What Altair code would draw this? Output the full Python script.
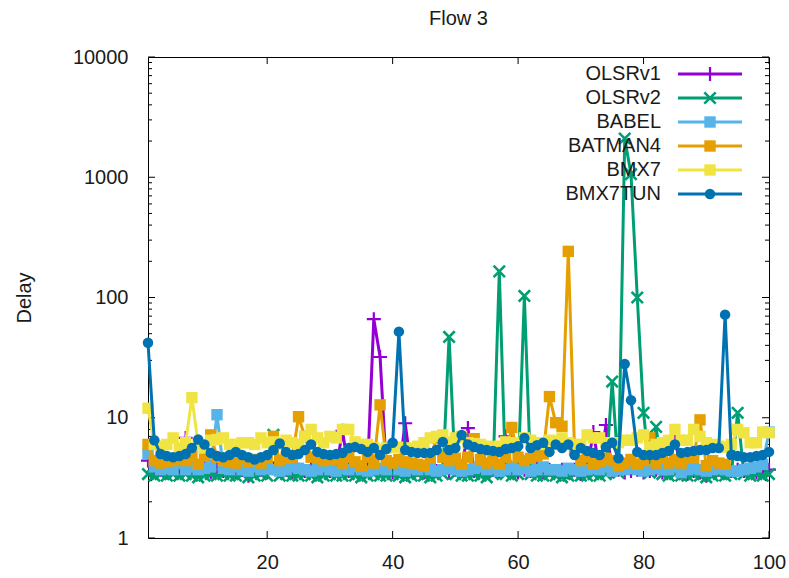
import altair as alt
import pandas as pd

# ---- data -------------------------------------------------------------
names = ["OLSRv1", "OLSRv2", "BABEL", "BATMAN4", "BMX7", "BMX7TUN"]
colors = ["#9400d3", "#009e73", "#56b4e9", "#e69f00", "#f0e442", "#0072b2"]

olsrv1 = [4.4, 3.6, 3.7, 3.5, 3.8, 3.6, 6.8, 3.7, 3.6, 3.8,
          3.5, 3.9, 3.6, 3.7, 3.5, 3.7, 3.3, 3.6, 3.7, 3.5,
          3.8, 3.6, 3.7, 3.5, 3.7, 3.6, 3.8, 3.5, 3.7, 3.6,
          3.7, 7.8, 3.6, 3.7, 3.5, 3.7, 66, 32, 3.7, 3.5,
          3.6, 9.0, 3.6, 3.7, 3.5, 3.7, 3.6, 3.8, 3.5, 3.7,
          3.6, 8.2, 3.6, 3.7, 3.5, 3.7, 3.6, 7.0, 3.6, 3.5,
          3.7, 3.6, 3.8, 3.5, 3.7, 3.6, 3.7, 3.5, 3.7, 3.4,
          3.7, 7.6, 3.6, 8.7, 3.6, 3.7, 3.5, 3.6, 3.7, 3.5,
          3.6, 3.7, 3.5, 3.6, 6.8, 3.5, 3.4, 3.6, 3.5, 3.3,
          3.6, 3.7, 3.5, 3.6, 3.7, 3.6, 3.7, 3.5, 3.6, 3.7]

olsrv2 = [3.4, 3.3, 3.4, 3.3, 3.4, 3.3, 3.4, 3.3, 3.2, 3.3,
          3.4, 3.3, 3.4, 3.3, 3.3, 3.4, 3.2, 3.3, 3.4, 3.3,
          7.2, 3.3, 3.4, 3.3, 3.3, 3.4, 3.3, 3.2, 3.3, 3.4,
          3.3, 3.3, 3.4, 3.3, 3.2, 3.3, 3.4, 3.3, 3.3, 3.4,
          3.3, 3.2, 3.3, 3.4, 3.3, 3.2, 3.3, 3.4, 47, 3.4,
          3.3, 3.3, 3.4, 3.3, 3.2, 3.4, 165, 3.4, 3.3, 3.4,
          103, 3.4, 3.3, 3.3, 3.4, 3.3, 3.2, 3.3, 3.4, 3.3,
          3.3, 3.4, 3.3, 3.4, 20, 3.5, 2100, 1060, 100, 11,
          3.5, 8.4, 3.4, 3.3, 3.4, 3.3, 3.3, 3.4, 3.3, 3.2,
          3.3, 3.4, 3.3, 3.4, 11, 3.4, 3.3, 3.4, 3.3, 3.4]

babel = [5.0, 3.9, 3.7, 3.8, 3.7, 4.2, 3.7, 3.9, 3.7, 3.8,
         3.9, 10.6, 3.8, 3.7, 3.9, 3.7, 3.6, 3.9, 3.7, 3.8,
         3.7, 3.6, 3.7, 3.9, 3.8, 3.7, 3.6, 3.7, 3.9, 3.7,
         3.6, 3.8, 3.7, 3.9, 3.7, 3.6, 3.7, 3.8, 3.7, 4.2,
         3.7, 3.6, 3.8, 3.7, 3.9, 3.7, 3.6, 3.7, 3.8, 3.7,
         3.6, 3.7, 3.8, 3.9, 3.7, 3.8, 3.6, 3.7, 3.9, 3.7,
         3.8, 3.6, 3.7, 3.9, 3.7, 3.7, 3.6, 3.8, 3.7, 3.6,
         3.7, 3.8, 3.7, 3.9, 3.6, 3.7, 3.7, 3.8, 3.7, 3.6,
         3.7, 3.8, 3.7, 3.7, 3.9, 3.5, 3.7, 3.8, 3.7, 3.6,
         3.7, 3.8, 3.7, 3.6, 3.6, 3.7, 3.8, 3.9, 4.1, 7.6]

batman4 = [6.0, 4.4, 4.2, 4.3, 4.4, 4.6, 4.4, 4.8, 4.1, 4.8,
           7.2, 4.7, 4.4, 4.3, 4.2, 4.6, 4.3, 4.5, 4.2, 4.6,
           7.0, 4.4, 4.6, 4.7, 10.2, 7.0, 4.7, 4.6, 4.4, 4.6,
           4.5, 4.2, 4.7, 4.3, 4.0, 4.7, 4.2, 12.8, 4.4, 4.2,
           4.5, 4.3, 4.2, 4.1, 4.0, 4.6, 6.8, 4.7, 4.4, 4.6,
           4.1, 4.7, 6.7, 4.5, 4.2, 4.5, 4.1, 4.7, 8.3, 4.7,
           4.4, 4.6, 4.8, 5.0, 15, 9.1, 8.5, 242, 5.4, 4.4,
           4.7, 4.1, 4.3, 4.6, 4.4, 4.0, 4.2, 4.5, 4.1, 4.4,
           6.8, 4.2, 4.6, 4.2, 4.5, 4.2, 4.6, 4.7, 9.6, 4.0,
           4.4, 4.2, 4.1]

bmx7 = [12, 6.0, 5.8, 6.0, 6.8, 5.6, 6.2, 14.7, 6.0, 5.6,
        6.5, 6.6, 6.8, 6.0, 6.0, 6.2, 6.2, 6.0, 6.8, 6.2,
        6.3, 6.0, 6.5, 6.2, 6.0, 7.0, 8.0, 6.8, 6.2, 7.0,
        6.8, 8.0, 8.0, 6.3, 6.0, 6.0, 5.6, 5.4, 5.6, 5.7,
        5.7, 5.6, 5.6, 5.8, 6.2, 6.8, 7.0, 7.2, 6.3, 6.8,
        7.0, 6.2, 6.1, 6.0, 5.8, 5.7, 5.8, 6.3, 6.2, 6.2,
        6.8, 6.5, 6.2, 6.0, 6.5, 6.4, 6.8, 6.2, 6.0, 6.0,
        7.2, 6.8, 6.8, 6.2, 6.2, 6.2, 6.5, 6.5, 6.8, 7.2,
        5.7, 6.0, 6.2, 6.5, 8.0, 6.5, 6.5, 8.0, 7.0, 6.2,
        6.0, 5.8, 5.7, 6.0, 8.0, 7.5, 6.2, 6.2, 7.6, 7.5]

bmx7tun = [42, 6.5, 5.0, 4.8, 4.7, 4.8, 5.0, 5.6, 6.6, 6.0,
           5.1, 4.8, 4.7, 4.9, 5.2, 4.9, 4.7, 4.5, 4.7, 4.9,
           5.4, 6.1, 5.2, 4.9, 5.0, 5.4, 6.0, 5.2, 5.0, 4.9,
           5.0, 5.1, 5.6, 5.7, 5.5, 5.2, 5.6, 4.9, 5.5, 6.2,
           52, 5.4, 5.2, 5.1, 5.1, 5.1, 5.4, 6.3, 5.4, 5.6,
           7.2, 6.0, 5.7, 5.5, 5.4, 5.3, 5.2, 5.5, 5.6, 5.8,
           6.8, 5.6, 5.9, 6.2, 5.2, 6.0, 5.6, 6.0, 4.9, 5.6,
           5.3, 5.1, 4.9, 5.7, 6.2, 4.6, 28, 14, 5.2, 4.9,
           4.9, 4.9, 5.1, 5.3, 6.0, 5.1, 5.2, 5.3, 5.4, 5.4,
           5.6, 5.6, 72, 4.9, 4.8, 4.7, 4.7, 4.8, 4.9, 5.2]

series_values = [olsrv1, olsrv2, babel, batman4, bmx7, bmx7tun]

x_ticks = [20, 40, 60, 80, 100]
y_ticks = [1, 10, 100, 1000, 10000]
y_minor = [m * 10 ** k for k in range(4) for m in range(2, 10)]

# ---- styling ----------------------------------------------------------
W, H = 621, 481
FONT = "Liberation Sans"
INK = "#1a1a1a"
FS = 20

markers = {
    "OLSRv1": dict(shape="M-1,0H1M0,-1V1", filled=False, size=196, strokeWidth=2.2),
    "OLSRv2": dict(shape="M-1,-1L1,1M1,-1L-1,1", filled=False, size=130, strokeWidth=2.6),
    "BABEL": dict(shape="square", filled=True, size=130),
    "BATMAN4": dict(shape="square", filled=True, size=130),
    "BMX7": dict(shape="square", filled=True, size=130),
    "BMX7TUN": dict(shape="circle", filled=True, size=110),
}

xs = alt.Scale(domain=[1, 100], nice=False, zero=False)
ys = alt.Scale(type="log", domain=[1, 10000], nice=False)

x_axis = alt.Axis(values=x_ticks, ticks=False, tickSize=0, domain=False, grid=False,
                  labelFlush=False, labelPadding=14, labelFontSize=FS, labelFont=FONT,
                  labelColor=INK)
y_axis = alt.Axis(values=y_ticks, format="d", ticks=False, tickSize=0, domain=False,
                  grid=False, labelFlush=False, labelPadding=20, labelFontSize=FS,
                  labelFont=FONT, labelColor=INK, title="Delay", titleFontSize=FS,
                  titleFont=FONT, titleFontWeight="normal", titleColor=INK, titleX=-118,
                  titleY=H / 2, titleAngle=270, titleBaseline="alphabetic",
                  titleAlign="center")


def xenc(field):
    return alt.X(field, type="quantitative", scale=xs, axis=x_axis, title=None)


def yenc(field, axis=None):
    if axis is None:
        return alt.Y(field, type="quantitative", scale=ys, axis=None)
    return alt.Y(field, type="quantitative", scale=ys, axis=axis)


layers = []

# inward tick marks on all four sides
xt = pd.DataFrame({"v": x_ticks})
yt = pd.DataFrame({"v": y_ticks})
ym = pd.DataFrame({"v": y_minor})
layers.append(alt.Chart(xt).mark_rule(color="#000").encode(
    x=xenc("v"), y=alt.value(H), y2=alt.value(H - 7)))
layers.append(alt.Chart(xt).mark_rule(color="#000").encode(
    x=xenc("v"), y=alt.value(0), y2=alt.value(7)))
layers.append(alt.Chart(yt).mark_rule(color="#000").encode(
    y=yenc("v", y_axis), x=alt.value(0), x2=alt.value(7)))
layers.append(alt.Chart(yt).mark_rule(color="#000").encode(
    y=yenc("v"), x=alt.value(W - 7), x2=alt.value(W)))
layers.append(alt.Chart(ym).mark_rule(color="#000").encode(
    y=yenc("v"), x=alt.value(0), x2=alt.value(4)))
layers.append(alt.Chart(ym).mark_rule(color="#000").encode(
    y=yenc("v"), x=alt.value(W - 4), x2=alt.value(W)))

# key rows sit on their own point scale
key_y = alt.Y("name:N", scale=alt.Scale(type="point", domain=names, range=[17, 137], padding=0),
              axis=None)

for name, color, vals in zip(names, colors, series_values):
    df = pd.DataFrame({"x": list(range(1, len(vals) + 1)), "delay": vals})
    key = pd.DataFrame({"name": [name]})
    m = markers[name]

    layers.append(alt.Chart(key).mark_text(
        align="right", baseline="middle", font=FONT, fontSize=FS, color=INK
    ).encode(x=alt.value(513), y=key_y, text="name:N"))
    layers.append(alt.Chart(key).mark_rule(color=color, strokeWidth=3).encode(
        x=alt.value(530), x2=alt.value(594), y=key_y))
    layers.append(alt.Chart(key).mark_point(color=color, opacity=1, **m).encode(
        x=alt.value(562), y=key_y))

    layers.append(alt.Chart(df).mark_line(color=color, strokeWidth=3).encode(
        x=xenc("x"), y=yenc("delay")))
    layers.append(alt.Chart(df).mark_point(color=color, opacity=1, **m).encode(
        x=xenc("x"), y=yenc("delay")))

chart = alt.layer(*layers).resolve_scale(y="independent").properties(
    width=W,
    height=H,
    autosize=alt.AutoSizeParams(type="none"),
    padding={"left": 148, "top": 57, "right": 20, "bottom": 40},
    title=alt.TitleParams("Flow 3", font=FONT, fontSize=FS, fontWeight="normal",
                          color=INK, offset=18, anchor="middle"),
).configure_view(stroke="#000", strokeWidth=1)

chart.save("out.html", embed_options={"renderer": "svg", "actions": False})
